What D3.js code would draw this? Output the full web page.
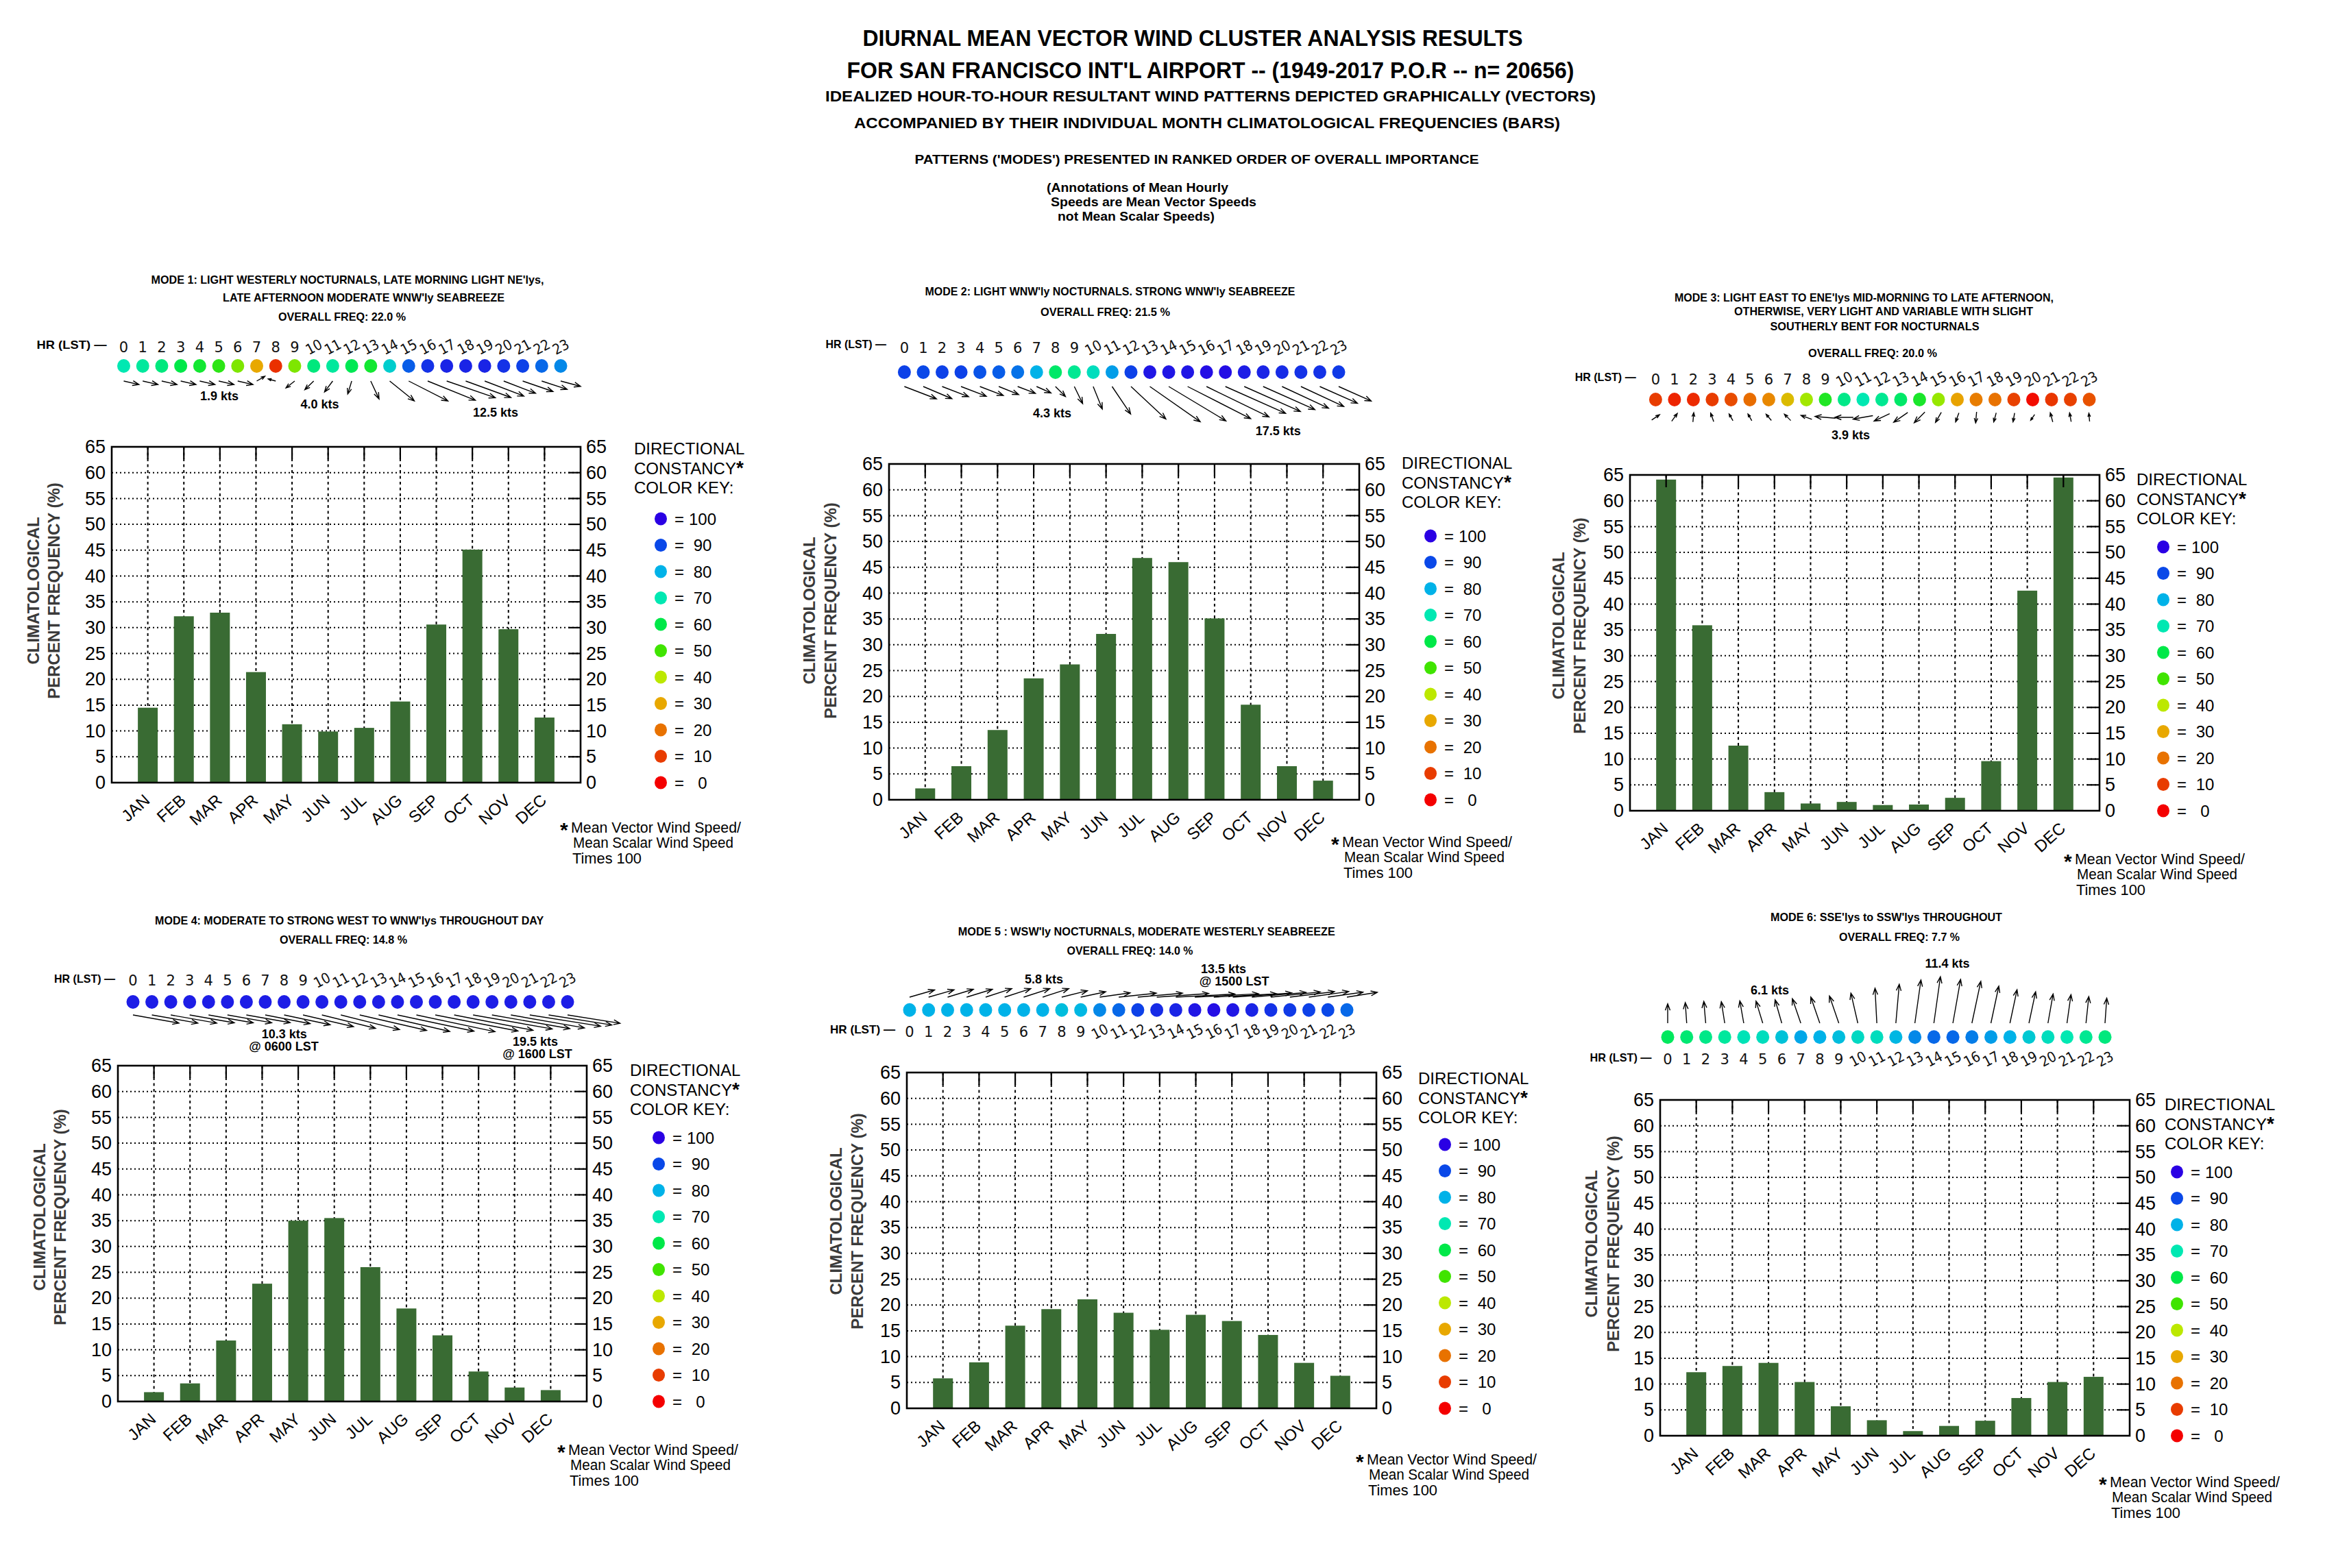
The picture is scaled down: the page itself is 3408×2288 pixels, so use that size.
<!DOCTYPE html>
<html><head><meta charset="utf-8">
<script src="https://cdn.jsdelivr.net/npm/d3@7"></script>
<style>html,body{margin:0;padding:0;background:#fff;}svg{display:block}</style>
</head><body>
<svg id="chart" width="3408" height="2288"></svg>
<script>
// ---------------- DATA ----------------
const months = ["JAN","FEB","MAR","APR","MAY","JUN","JUL","AUG","SEP","OCT","NOV","DEC"];
const yTickValues = [0,5,10,15,20,25,30,35,40,45,50,55,60,65];
const hours = [0,1,2,3,4,5,6,7,8,9,10,11,12,13,14,15,16,17,18,19,20,21,22,23];
const constancyKeys = [100,90,80,70,60,50,40,30,20,10,0];
const constancyColors = ["#2a00e4","#0a48e8","#00b2e8","#00e8b2","#00e848","#40e400","#bce800","#e8a800","#e87200","#e83c00","#f40000"];

const mainTitle = [
  "DIURNAL MEAN VECTOR WIND CLUSTER ANALYSIS RESULTS",
  "FOR SAN FRANCISCO INT'L AIRPORT --  (1949-2017 P.O.R -- n= 20656)",
  "IDEALIZED HOUR-TO-HOUR RESULTANT WIND PATTERNS DEPICTED GRAPHICALLY (VECTORS)",
  "ACCOMPANIED BY THEIR INDIVIDUAL MONTH CLIMATOLOGICAL FREQUENCIES (BARS)",
  "PATTERNS ('MODES') PRESENTED IN RANKED ORDER OF OVERALL IMPORTANCE"];
const annotation = ["(Annotations of Mean Hourly","Speeds are Mean Vector Speeds","not Mean Scalar Speeds)"];

// monthly climatological frequency (%) per mode
const freqMode1 = [14.5,32.2,32.9,21.4,11.3,9.9,10.6,15.7,30.6,45.1,29.7,12.6];
const freqMode2 = [2.2,6.5,13.5,23.5,26.2,32.1,46.8,46.0,35.1,18.4,6.5,3.7];
const freqMode3 = [64.1,35.9,12.6,3.6,1.4,1.7,1.1,1.2,2.5,9.6,42.6,64.5];
const freqMode4 = [1.8,3.5,11.8,22.8,35.0,35.5,26.0,18.0,12.8,5.8,2.7,2.2];
const freqMode5 = [5.8,8.9,16.0,19.2,21.1,18.5,15.2,18.1,16.9,14.2,8.8,6.3];
const freqMode6 = [12.3,13.5,14.1,10.4,5.7,3.0,0.9,1.9,2.9,7.3,10.4,11.4];

// hourly directional constancy (x100)
const constMode1 = [70,68,65,60,57,53,45,30,8,45,65,68,61,57,75,88,93,95,95,95,93,91,87,84];
const constMode2 = [91,90,91,91,89,88,86,80,63,67,72,82,91,97,97,97,98,98,96,95,94,93,93,92];
const constMode3 = [10,6,7,10,13,19,24,33,42,55,66,70,67,63,56,43,29,22,20,11,2,9,11,14];
const constMode4 = [96,96,96,96,96,96,96,96,96,96,96,96,96,96,96,96,96,96,96,96,96,96,96,96];
const constMode5 = [80,80,80,80,80,80,80,80,78,79,84,87,91,94,95,97,98,97,95,93,92,91,90,87];
const constMode6 = [62,64,66,68,71,72,77,81,80,78,73,72,79,84,87,87,85,82,80,76,72,70,67,65];

// hourly mean vector wind: direction FROM (deg) and speed (kts)
const dirMode1 = [283,283,283,283,283,283,283,240,105,52,46,37,17,335,309,297,292,289,290,291,291,289,288,285];
const spdMode1 = [3.8,3.8,3.8,3.8,3.8,3.8,3.8,2.3,1.9,2.7,3.0,3.3,3.3,4.8,7.7,10.7,12.5,12.5,11.7,10.2,8.3,7.8,6.5,5.0];
const dirMode2 = [291,293,291,291,291,292,291,294,315,334,338,326,313,305,301,297,296,294,294,294,295,295,294,294];
const spdMode2 = [8.5,7.7,7.0,6.7,6.2,5.3,4.7,3.9,3.5,4.7,6.0,8.2,11.8,15.2,16.5,17.5,17.2,16.3,15.2,14.0,12.7,11.7,10.2,8.8];
const dirMode3 = [236,216,185,160,150,150,140,135,110,95,90,80,65,55,45,30,20,5,15,10,35,165,170,175];
const spdMode3 = [1.8,1.8,1.75,1.7,1.45,1.45,1.55,1.7,2.2,3.9,3.5,3.8,3.25,3.25,2.85,2.2,1.8,2.1,1.8,1.7,1.3,1.8,1.7,1.55];
const dirMode4 = [280,280,280,280,280,280,280,281,282,283,284,284,283,283,282,282,281,281,280,280,280,279,279,279];
const spdMode4 = [10.8,10.8,10.8,10.5,10.5,10.4,10.3,10.6,10.9,12.0,12.8,14.0,15.9,16.9,18.1,18.6,19.5,18.6,18.6,18.3,17.3,16.6,14.8,12.3];
const dirMode5 = [254,254,253,253,252,252,252,252,256,258,262,264,265,266,267,267,267,266,265,264,263,262,262,261];
const spdMode5 = [5.5,5.6,5.7,5.7,5.8,5.8,5.8,5.8,5.6,5.4,6.5,8.0,9.5,11.0,12.5,13.5,13.3,12.5,11.5,10.5,9.5,8.5,7.5,6.5];
const dirMode6 = [180,176,175,171,170,163,164,161,161,161,167,177,185,188,188,190,192,192,192,192,190,188,186,184];
const spdMode6 = [4.7,5.0,5.3,5.3,5.5,5.6,5.9,6.3,6.7,7.0,7.5,8.5,9.5,10.6,11.4,10.8,10.4,9.2,8.3,7.8,7.2,7.0,6.5,6.1];

const titleMode1 = ["MODE 1: LIGHT WESTERLY NOCTURNALS, LATE MORNING LIGHT NE'lys,","LATE AFTERNOON MODERATE WNW'ly SEABREEZE","OVERALL FREQ: 22.0 %"];
const titleMode2 = ["MODE 2: LIGHT WNW'ly NOCTURNALS. STRONG WNW'ly SEABREEZE","OVERALL FREQ:  21.5 %"];
const titleMode3 = ["MODE 3:  LIGHT EAST TO ENE'lys MID-MORNING TO LATE AFTERNOON,","OTHERWISE, VERY LIGHT AND VARIABLE  WITH SLIGHT","SOUTHERLY BENT FOR NOCTURNALS","OVERALL FREQ:  20.0 %"];
const titleMode4 = ["MODE 4: MODERATE TO STRONG WEST TO WNW'lys THROUGHOUT DAY","OVERALL FREQ: 14.8 %"];
const titleMode5 = ["MODE 5 :   WSW'ly NOCTURNALS, MODERATE WESTERLY SEABREEZE","OVERALL FREQ: 14.0 %"];
const titleMode6 = ["MODE 6:  SSE'lys to SSW'lys THROUGHOUT","OVERALL FREQ: 7.7 %"];

const ktsMode1 = ["1.9 kts","4.0 kts","12.5 kts"];
const ktsMode2 = ["4.3 kts","17.5 kts"];
const ktsMode3 = ["3.9 kts"];
const ktsMode4 = ["10.3 kts","@ 0600 LST","19.5 kts","@ 1600 LST"];
const ktsMode5 = ["5.8 kts","13.5 kts","@ 1500 LST"];
const ktsMode6 = ["11.4 kts","6.1 kts"];

const yLabel = ["CLIMATOLOGICAL","PERCENT FREQUENCY (%)"];
const legendTitle = ["DIRECTIONAL","CONSTANCY","COLOR KEY:"];
const footnote = ["Mean Vector Wind Speed/","Mean Scalar Wind Speed","Times 100"];

// ---------------- LAYOUT ----------------
const panels = [
 {freq:freqMode1, con:constMode1, dir:dirMode1, spd:spdMode1, title:titleMode1, kts:ktsMode1,
  plot:[163,652,684,490], tpos:[[507,408,573],[530.5,434,411],[499,462,186]],
  hr:{x:53.5,yc:503,w:102,x0:180.5,x1:818,tyc:506,dy:534}, ar:{y:556,anchor:"tail",k:6.0},
  kpos:[[320,578],[466.6,590],[723,602]], leg:{dx:78,dy:2,dot:117}, foot:{dx:-26,dy:65}, yl:{a:-115,b:-85,dy:210}},
 {freq:freqMode2, con:constMode2, dir:dirMode2, spd:spdMode2, title:titleMode2, kts:ktsMode2,
  plot:[1297,677,686,490], tpos:[[1619.5,425.3,540],[1612.6,455.3,189]],
  hr:{x:1204.5,yc:502,w:88.5,x0:1319.4,x1:1953,tyc:507,dy:543}, ar:{y:564,anchor:"tail",k:5.9},
  kpos:[[1535,603],[1864.7,628.7]], leg:{dx:62,dy:-2,dot:104}, foot:{dx:-37,dy:61}, yl:{a:-117,b:-86,dy:214}},
 {freq:freqMode3, con:constMode3, dir:dirMode3, spd:spdMode3, title:titleMode3, kts:ktsMode3,
  plot:[2378,693,685,490], tpos:[[2719.5,433.7,553],[2748,453.7,436],[2735,476.3,305],[2732,514.7,188]],
  hr:{x:2297.7,yc:549.7,w:89,x0:2415.4,x1:3048,tyc:553,dy:583}, ar:{y:609,anchor:"center",k:7.7},
  kpos:[[2700,634.7]], leg:{dx:54,dy:6.5,dot:93}, foot:{dx:-48,dy:70}, yl:{a:-105,b:-74,dy:220}},
 {freq:freqMode4, con:constMode4, dir:dirMode4, spd:spdMode4, title:titleMode4, kts:ktsMode4,
  plot:[172,1555,684,490], tpos:[[509.6,1343.3,567],[501,1371,186]],
  hr:{x:79,yc:1427.7,w:89,x0:194,x1:828,tyc:1430,dy:1462}, ar:{y:1481,anchor:"tail",k:6.3},
  kpos:[[414.8,1509],[414,1527],[781,1520],[784,1537.7]], leg:{dx:63,dy:6.5,dot:105}, foot:{dx:-39,dy:70}, yl:{a:-115,b:-85,dy:221}},
 {freq:freqMode5, con:constMode5, dir:dirMode5, spd:spdMode5, title:titleMode5, kts:ktsMode5,
  plot:[1323,1565,685,490], tpos:[[1672.8,1358.7,550],[1648.5,1387,184]],
  hr:{x:1211,yc:1502,w:95,x0:1327,x1:1965,tyc:1505,dy:1473.7}, ar:{y:1455,anchor:"tail",k:6.9},
  kpos:[[1523,1428.7],[1785,1413.7],[1800.6,1432]], leg:{dx:61,dy:8.7,dot:100}, foot:{dx:-26,dy:74}, yl:{a:-104,b:-73,dy:217}},
 {freq:freqMode6, con:constMode6, dir:dirMode6, spd:spdMode6, title:titleMode6, kts:ktsMode6,
  plot:[2422,1605,685,490], tpos:[[2752,1337.7,338],[2771,1366.7,176]],
  hr:{x:2319.5,yc:1543.3,w:90,x0:2433,x1:3071,tyc:1545,dy:1513.3}, ar:{y:1493,anchor:"tail",k:6.0},
  kpos:[[2841,1405.7],[2582,1445]], leg:{dx:51,dy:6.5,dot:69}, foot:{dx:-41,dy:67}, yl:{a:-101,b:-69,dy:210}}
];

const SANS = "'Liberation Sans', Arial, Helvetica, sans-serif";
const NARROW = "'Liberation Sans Narrow', 'Arial Narrow', 'Liberation Sans', Arial, sans-serif";
const HAND = "'DejaVu Sans', 'Liberation Sans', sans-serif";
const BAR = "#396b33";

const svg = d3.select("#chart");
svg.append("rect").attr("width",3408).attr("height",2288).attr("fill","#fff");

function txt(g, x, y, s, o = {}) {
  const size = o.size || 16;
  const t = g.append("text").attr("x", x).attr("y", y).text(s)
    .attr("font-family", o.family || SANS).attr("font-size", size)
    .attr("font-weight", o.weight || "normal").attr("text-anchor", o.anchor || "start")
    .attr("fill", o.fill || "#000");
  if (o.center) t.attr("dy", "0.36em");
  if (o.width) t.attr("textLength", o.width).attr("lengthAdjust", "spacingAndGlyphs");
  return t;
}

// main titles
const tg = svg.append("g");
txt(tg, 1740, 55, mainTitle[0], {size:34, weight:"bold", anchor:"middle", width:963, center:true, family:NARROW});
txt(tg, 1766, 102, mainTitle[1], {size:34, weight:"bold", anchor:"middle", width:1061, center:true, family:NARROW});
txt(tg, 1766, 140, mainTitle[2], {size:22, weight:"bold", anchor:"middle", width:1124, center:true, family:NARROW});
txt(tg, 1761, 179, mainTitle[3], {size:22, weight:"bold", anchor:"middle", width:1030, center:true, family:NARROW});
txt(tg, 1746, 232, mainTitle[4], {size:19, weight:"bold", anchor:"middle", width:823, center:true, family:NARROW});
txt(tg, 1527, 274, annotation[0], {size:18, weight:"bold", width:265, center:true, family:NARROW});
txt(tg, 1533, 295, annotation[1], {size:18, weight:"bold", width:300, center:true, family:NARROW});
txt(tg, 1543, 316, annotation[2], {size:18, weight:"bold", width:229, center:true, family:NARROW});

const colorScale = d3.scaleLinear().domain(constancyKeys).range(constancyColors);

function drawPanel(p) {
  const [px, py, pw, ph] = p.plot;
  const g = svg.append("g");

  // header
  p.title.forEach((s, i) => txt(g, p.tpos[i][0], p.tpos[i][1], s,
    {size:17, weight:"bold", anchor:"middle", width:p.tpos[i][2], center:true, family:NARROW}));
  txt(g, p.hr.x, p.hr.yc, "HR (LST) —", {size:17, weight:"bold", width:p.hr.w, center:true, family:NARROW});

  const hx = d3.scaleLinear().domain([0, 23]).range([p.hr.x0, p.hr.x1]);
  const hg = g.append("g").selectAll("g").data(hours).join("g")
    .attr("transform", h => `translate(${hx(h)},${p.hr.tyc}) rotate(${h >= 10 ? -28 : 0})`);
  hg.append("text").text(h => h).attr("text-anchor", "middle").attr("dy", "0.36em")
    .attr("font-family", HAND).attr("font-size", 21).attr("fill", "#111")
    .attr("textLength", h => h >= 10 ? 24 : null).attr("lengthAdjust", "spacingAndGlyphs");

  g.append("g").selectAll("ellipse").data(p.con).join("ellipse")
    .attr("cx", (d, i) => hx(i)).attr("cy", p.hr.dy).attr("rx", 9.5).attr("ry", 10)
    .attr("fill", d => colorScale(d));

  // wind vectors
  const len = d3.scaleLinear().domain([0, 1]).range([0, p.ar.k]);
  const ag = g.append("g").attr("stroke", "#000").attr("stroke-width", 1.4).attr("fill", "none");
  p.spd.forEach((s, i) => {
    const L = len(s);
    const to = (p.dir[i] + 180) * Math.PI / 180;
    const vx = Math.sin(to) * L, vy = -Math.cos(to) * L;
    let tx = hx(i), ty = p.ar.y;
    if (p.ar.anchor === "center") { tx -= vx / 2; ty -= vy / 2; }
    const ex = tx + vx, ey = ty + vy;
    const a = Math.atan2(vy, vx), b = Math.min(10, L * 0.45), w = 0.36;
    const b1x = ex - b * Math.cos(a - w), b1y = ey - b * Math.sin(a - w);
    const b2x = ex - b * Math.cos(a + w), b2y = ey - b * Math.sin(a + w);
    ag.append("path").attr("d", `M${tx},${ty}L${ex},${ey}M${b1x},${b1y}L${ex},${ey}L${b2x},${b2y}`);
  });
  p.kts.forEach((s, i) => txt(g, p.kpos[i][0], p.kpos[i][1], s,
    {size:18, weight:"bold", anchor:"middle", center:true, family:NARROW}));

  // bar chart
  const pg = g.append("g").attr("transform", `translate(${px},${py})`);
  const x = d3.scalePoint().domain(months).range([0, pw]).padding(1);
  const y = d3.scaleLinear().domain([0, 65]).range([ph, 0]);
  const inner = yTickValues.filter(v => v > 0 && v < 65);

  pg.append("g").selectAll("line").data(inner).join("line")
    .attr("x1", 0).attr("x2", pw).attr("y1", d => y(d)).attr("y2", d => y(d))
    .attr("stroke", "#000").attr("stroke-width", 2).attr("stroke-dasharray", "2,4");
  pg.append("g").selectAll("line").data(months).join("line")
    .attr("x1", d => x(d)).attr("x2", d => x(d)).attr("y1", 0).attr("y2", ph)
    .attr("stroke", "#000").attr("stroke-width", 2).attr("stroke-dasharray", "4,4.5");

  const bw = 29;
  pg.append("g").selectAll("rect").data(p.freq).join("rect")
    .attr("x", (d, i) => x(months[i]) - bw / 2).attr("width", bw)
    .attr("y", d => y(d)).attr("height", d => ph - y(d)).attr("fill", BAR);

  // inner ticks on top and right
  pg.append("g").selectAll("line").data(months).join("line")
    .attr("x1", d => x(d)).attr("x2", d => x(d)).attr("y1", 0).attr("y2", 18)
    .attr("stroke", "#000").attr("stroke-width", 2.2);
  pg.append("g").selectAll("line").data(inner).join("line")
    .attr("x1", pw - 18).attr("x2", pw).attr("y1", d => y(d)).attr("y2", d => y(d))
    .attr("stroke", "#000").attr("stroke-width", 2.2);
  pg.append("rect").attr("width", pw).attr("height", ph).attr("fill", "none")
    .attr("stroke", "#000").attr("stroke-width", 2.6);

  const styleAxis = sel => {
    sel.select(".domain").remove();
    sel.selectAll("text").attr("font-family", SANS).attr("font-size", 27).attr("fill", "#000");
  };
  pg.append("g").call(d3.axisLeft(y).tickValues(yTickValues).tickSize(0).tickPadding(9)).call(styleAxis);
  pg.append("g").attr("transform", `translate(${pw},0)`)
    .call(d3.axisRight(y).tickValues(yTickValues).tickSize(0).tickPadding(8)).call(styleAxis);
  const xa = pg.append("g").attr("transform", `translate(0,${ph})`)
    .call(d3.axisBottom(x).tickSize(0)).call(styleAxis);
  xa.selectAll("text").attr("font-size", 24).attr("x", 0).attr("y", 0).attr("dy", 0)
    .attr("transform", "translate(4,28) rotate(-42)").attr("text-anchor", "end");

  // y label
  const yc = py + p.yl.dy;
  [p.yl.a, p.yl.b].forEach((dx, i) => {
    g.append("text").text(yLabel[i]).attr("transform", `translate(${px + dx},${yc}) rotate(-90)`)
      .attr("text-anchor", "middle").attr("dy", "0.36em").attr("font-family", SANS)
      .attr("font-size", 24).attr("font-weight", "bold").attr("fill", "#3a3a3a");
  });

  // legend
  const lx = px + pw + p.leg.dx, ly = py + p.leg.dy;
  txt(g, lx, ly, legendTitle[0], {size:24, center:true});
  const c2 = txt(g, lx, ly + 29, legendTitle[1], {size:24, center:true});
  c2.append("tspan").text("*").attr("font-weight", "bold").attr("font-size", 28);
  txt(g, lx, ly + 57, legendTitle[2], {size:24, center:true});
  const ry = d3.scalePoint().domain(constancyKeys).range([py + 105, py + ph]);
  const dx0 = px + pw + p.leg.dot;
  const lg = g.append("g").selectAll("g").data(constancyKeys).join("g")
    .attr("transform", d => `translate(${dx0},${ry(d)})`);
  lg.append("ellipse").attr("rx", 9).attr("ry", 9.5).attr("fill", d => colorScale(d));
  lg.append("text").text("=").attr("x", 27).attr("dy", "0.36em").attr("text-anchor", "middle")
    .attr("font-family", SANS).attr("font-size", 24);
  lg.append("text").text(d => d).attr("x", 61).attr("dy", "0.36em").attr("text-anchor", "middle")
    .attr("font-family", SANS).attr("font-size", 24);

  // footnote
  const fx = px + pw + p.foot.dx, fy = py + ph + p.foot.dy;
  txt(g, fx - 4, fy + 14, "*", {size:30, weight:"bold"});
  txt(g, fx + 12, fy, footnote[0], {size:22, width:248, center:true, family:NARROW});
  txt(g, fx + 15, fy + 22.5, footnote[1], {size:22, width:234, center:true, family:NARROW});
  txt(g, fx + 14, fy + 45, footnote[2], {size:22, width:101, center:true, family:NARROW});
}

panels.forEach(drawPanel);
</script>
</body></html>
